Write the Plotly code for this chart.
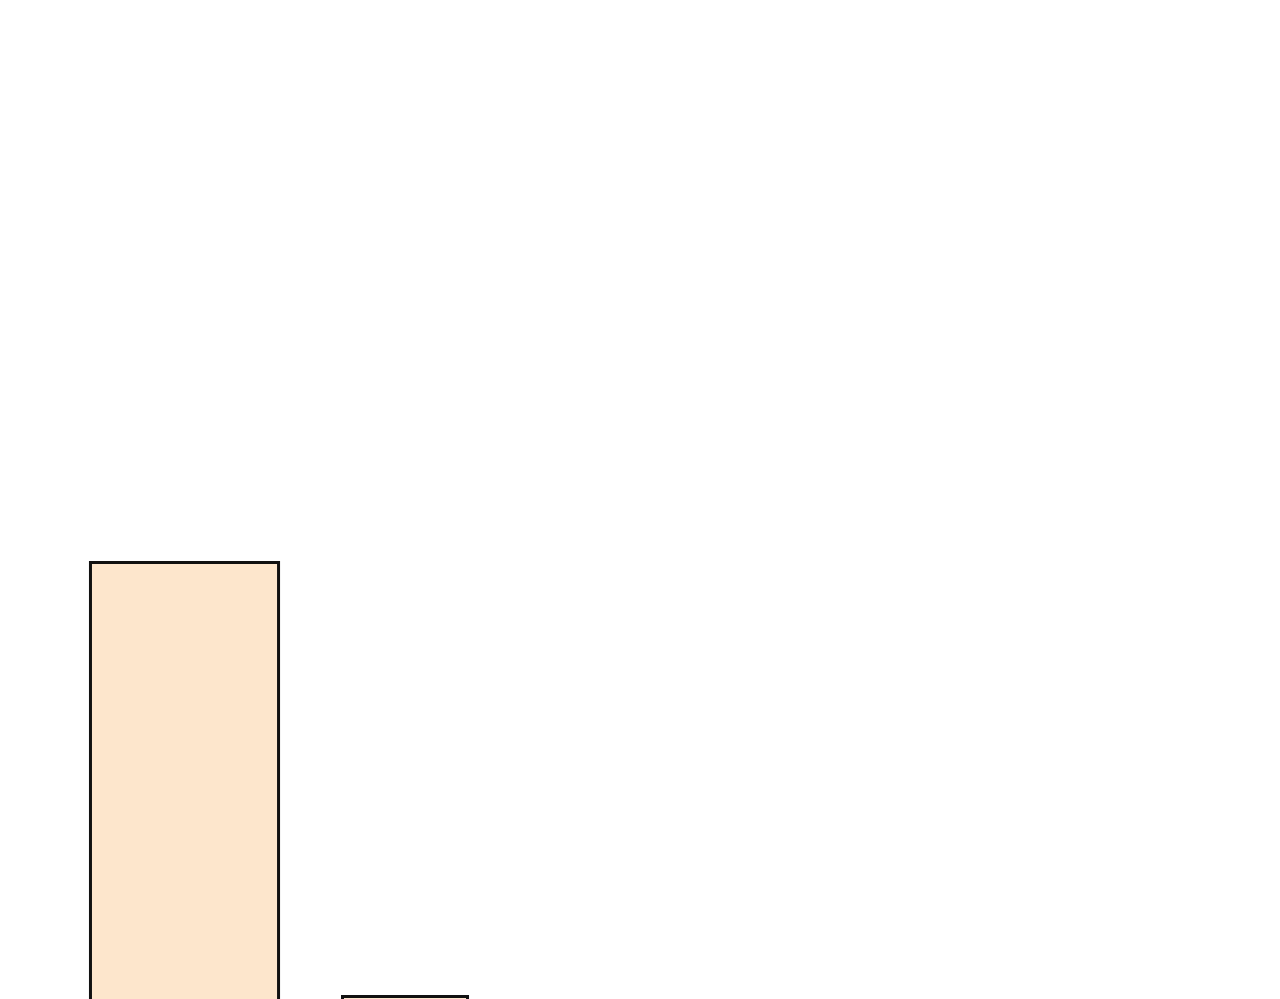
import plotly.graph_objects as go

# the visible part of the chart: two bars, both cut off at the bottom edge
positions = [0, 1]
values = [64.5, 21.05]
bar_widths = [0.853, 0.567]

fig = go.Figure()
fig.add_trace(go.Bar(x=positions, y=values, width=bar_widths,
                     marker={'color': '#FDE6CC',
                             'line': {'color': '#111111', 'width': 3}},
                     showlegend=False, hoverinfo='skip'))

# page body adds an 8px offset, so the axes are shifted to compensate
fig.update_layout(width=1280, height=999,
                  margin={'l': 0, 'r': 0, 't': 0, 'b': 0},
                  paper_bgcolor='white', plot_bgcolor='white',
                  xaxis={'range': [-0.8005, 5.0045], 'visible': False},
                  yaxis={'range': [20, 120], 'visible': False})

fig.write_html("out.html")
